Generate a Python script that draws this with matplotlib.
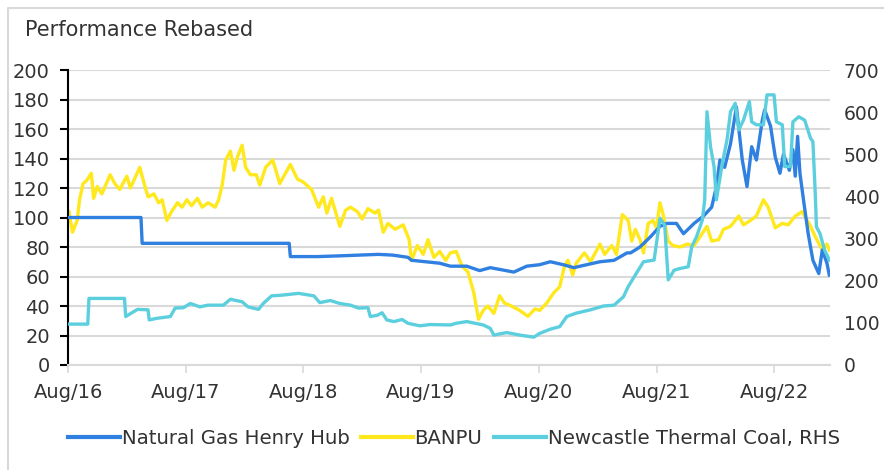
import numpy as np
import pandas as pd
import matplotlib
matplotlib.use("Agg")
import matplotlib.pyplot as plt
import matplotlib.dates as mdates
from matplotlib.lines import Line2D

# dates are decimal years
gas_t = [2016.58, 2017.20, 2017.21, 2018.46, 2018.47, 2018.70, 2018.89, 2019.22, 2019.34,
         2019.47, 2019.50, 2019.74, 2019.83, 2019.97, 2020.08, 2020.17, 2020.37, 2020.48,
         2020.59, 2020.68, 2020.79, 2020.88, 2020.99, 2021.10, 2021.22, 2021.33, 2021.36,
         2021.44, 2021.53, 2021.61, 2021.67, 2021.75, 2021.81, 2021.90, 2021.98, 2022.05,
         2022.09, 2022.12, 2022.16, 2022.21, 2022.26, 2022.31, 2022.35, 2022.39, 2022.43,
         2022.48, 2022.50, 2022.55, 2022.59, 2022.63, 2022.66, 2022.71, 2022.74, 2022.76,
         2022.78, 2022.80, 2022.83, 2022.87, 2022.91, 2022.96, 2022.99, 2023.03, 2023.05]
gas_v = [100, 100, 82.5, 82.5, 73.5, 73.5, 74, 75, 74.5,
         73, 71, 69, 67, 67, 64, 66, 63, 67,
         68, 70, 68, 66, 68, 70, 71, 76, 76,
         80, 87, 94, 96, 96, 89, 96, 101, 107,
         121, 139, 134, 150, 175, 139, 121, 148, 139,
         166, 173, 162, 141, 130, 143, 132, 146, 128,
         155, 130, 112, 89, 71, 62, 78, 69, 61]

banpu_t = [2016.59, 2016.62, 2016.66, 2016.68, 2016.71, 2016.74, 2016.78, 2016.80, 2016.83,
           2016.87, 2016.94, 2016.98, 2017.02, 2017.08, 2017.11, 2017.15, 2017.19, 2017.22,
           2017.26, 2017.31, 2017.35, 2017.38, 2017.42, 2017.46, 2017.51, 2017.55, 2017.59,
           2017.63, 2017.68, 2017.72, 2017.77, 2017.83, 2017.86, 2017.89, 2017.92, 2017.96,
           2017.99, 2018.02, 2018.06, 2018.09, 2018.13, 2018.18, 2018.21, 2018.26, 2018.32,
           2018.38, 2018.47, 2018.53, 2018.58, 2018.65, 2018.71, 2018.75, 2018.78, 2018.82,
           2018.89, 2018.94, 2018.98, 2019.04, 2019.08, 2019.13, 2019.19, 2019.22, 2019.26,
           2019.30, 2019.36, 2019.43, 2019.48, 2019.50, 2019.55, 2019.60, 2019.64, 2019.69,
           2019.74, 2019.79, 2019.83, 2019.88, 2019.93, 2019.98, 2020.03, 2020.07, 2020.11,
           2020.15, 2020.20, 2020.25, 2020.29, 2020.35, 2020.42, 2020.49, 2020.55, 2020.59,
           2020.65, 2020.71, 2020.76, 2020.80, 2020.83, 2020.87, 2020.90, 2020.97, 2021.02,
           2021.10, 2021.14, 2021.20, 2021.24, 2021.29, 2021.34, 2021.37, 2021.40, 2021.44,
           2021.47, 2021.51, 2021.55, 2021.58, 2021.61, 2021.64, 2021.68, 2021.72, 2021.78,
           2021.84, 2021.90, 2021.95, 2022.01, 2022.05, 2022.11, 2022.15, 2022.21, 2022.28,
           2022.32, 2022.38, 2022.43, 2022.49, 2022.53, 2022.59, 2022.65, 2022.70, 2022.76,
           2022.82, 2022.84, 2022.89, 2022.93, 2022.99, 2023.03, 2023.05]
banpu_v = [104, 90, 98, 112, 123, 125, 130, 113, 121,
           116, 129, 123, 119, 128, 120, 127, 134, 125,
           114, 116, 110, 112, 98, 104, 110, 107, 112,
           108, 113, 107, 110, 107, 112, 122, 139, 145,
           132, 141, 149, 134, 129, 129, 122, 134, 139,
           123, 136, 126, 124, 119, 107, 114, 103, 113,
           94, 105, 107, 104, 99, 106, 103, 105, 90,
           96, 92, 95, 85, 71, 81, 75, 85, 73,
           77, 71, 76, 77, 67, 63, 49, 31, 37,
           40, 35, 47, 42, 40, 37, 33, 38, 37,
           42, 49, 53, 67, 71, 61, 69, 76, 70,
           82, 75, 81, 75, 102, 98, 84, 92, 85,
           76, 96, 98, 93, 110, 101, 84, 81, 80,
           82, 81, 87, 94, 84, 85, 92, 94, 101,
           95, 98, 101, 112, 107, 93, 96, 95, 101,
           104, 101, 94, 87, 78, 82, 78]

coal_t = [2016.58, 2016.75, 2016.76, 2017.06, 2017.07, 2017.17, 2017.26, 2017.27, 2017.34,
          2017.45, 2017.49, 2017.56, 2017.62, 2017.70, 2017.77, 2017.90, 2017.96, 2018.06,
          2018.11, 2018.20, 2018.24, 2018.31, 2018.41, 2018.54, 2018.67, 2018.72, 2018.81,
          2018.89, 2018.98, 2019.05, 2019.13, 2019.15, 2019.21, 2019.25, 2019.29, 2019.35,
          2019.42, 2019.47, 2019.57, 2019.66, 2019.83, 2019.88, 2019.97, 2020.11, 2020.17,
          2020.20, 2020.31, 2020.42, 2020.54, 2020.59, 2020.68, 2020.76, 2020.82, 2020.90,
          2021.02, 2021.13, 2021.22, 2021.30, 2021.34, 2021.41, 2021.47, 2021.56, 2021.61,
          2021.65, 2021.68, 2021.73, 2021.78, 2021.85, 2021.88, 2021.92, 2021.97, 2021.99,
          2022.01, 2022.04, 2022.07, 2022.09, 2022.14, 2022.18, 2022.21, 2022.25, 2022.28,
          2022.32, 2022.37, 2022.39, 2022.43, 2022.49, 2022.52, 2022.58, 2022.60, 2022.65,
          2022.67, 2022.72, 2022.74, 2022.79, 2022.84, 2022.89, 2022.91, 2022.93, 2022.94,
          2022.97, 2023.01, 2023.05]
coal_v = [97, 97, 158, 158, 115, 132, 131, 107, 111,
          115, 135, 136, 146, 138, 142, 142, 156, 150,
          138, 132, 146, 164, 166, 170, 164, 148, 153,
          146, 142, 135, 136, 115, 118, 124, 107, 103,
          108, 99, 93, 96, 95, 99, 103, 95, 87,
          71, 77, 71, 66, 75, 85, 91, 115, 123,
          131, 140, 142, 162, 186, 218, 245, 249, 348,
          332, 202, 225, 229, 233, 281, 304, 344, 392,
          601, 518, 471, 392, 478, 534, 601, 621, 558,
          581, 625, 577, 570, 570, 641, 641, 577, 570,
          471, 471, 577, 589, 581, 538, 530, 407, 328,
          312, 273, 249]

left_ticks = list(range(0, 201, 20))
right_ticks = list(range(0, 701, 100))
year_ticks = [2016, 2017, 2018, 2019, 2020, 2021, 2022]


def to_dates(years):
    y = np.asarray(years, dtype=float)
    whole = np.floor(y).astype(int)
    base = pd.to_datetime([f"{v}-01-01" for v in whole])
    return base + pd.to_timedelta((y - whole) * 365.25, unit="D")


plt.rcParams['font.family'] = ['DejaVu Sans']
col_gas = '#2F80E0'
col_banpu = '#FFE81C'
col_coal = '#5CCFDE'
grid_col = '#D9D9D9'
txt_col = '#333333'

fig = plt.figure(figsize=(8.84, 4.70), dpi=100)
# light frame, only top and left edges show in the crop
fig.add_artist(Line2D([8 / 884, 8 / 884, 1.0], [0.0, 1 - 8 / 470, 1 - 8 / 470],
                      transform=fig.transFigure, color=grid_col, lw=1.5))
ax = fig.add_axes([68 / 884, 105 / 470, 762 / 884, 295 / 470])
ax2 = ax.twinx()

ax.plot(to_dates(gas_t), gas_v, color=col_gas, lw=2.4, zorder=3)
ax.plot(to_dates(banpu_t), banpu_v, color=col_banpu, lw=2.4, zorder=2)
ax2.plot(to_dates(coal_t), coal_v, color=col_coal, lw=2.4)

ax.set_ylim(0, 200)
ax.set_yticks(left_ticks)
ax2.set_ylim(0, 700)
ax2.set_yticks(right_ticks)
ax.set_xlim(to_dates([2016.582])[0], to_dates([2023.056])[0])
ax.set_xticks(pd.to_datetime([f"{y}-08-01" for y in year_ticks]))
ax.xaxis.set_major_formatter(mdates.DateFormatter("%b/%y"))

ax.grid(axis='y', color=grid_col, lw=1.5)
ax.set_axisbelow(True)
for a in (ax, ax2):
    for s in ('top', 'right'):
        a.spines[s].set_visible(False)
ax2.spines['left'].set_visible(False)
ax2.spines['bottom'].set_visible(False)
ax.spines['left'].set_linewidth(1.5)
ax.spines['bottom'].set_color(grid_col)
ax.spines['bottom'].set_linewidth(1.5)

ax.tick_params(axis='y', length=6, width=1.5, colors='black', labelcolor=txt_col, labelsize=14, pad=7)
ax.tick_params(axis='x', length=6, width=1.2, colors=grid_col, labelcolor=txt_col, labelsize=14, pad=7)
ax2.tick_params(axis='y', length=0, labelcolor=txt_col, labelsize=13.5, pad=10)

fig.text(25 / 884, 1 - 30 / 470, "Performance Rebased", fontsize=15, color=txt_col, va='center', ha='left')

handles = [Line2D([], [], color=col_gas, lw=3),
           Line2D([], [], color=col_banpu, lw=3),
           Line2D([], [], color=col_coal, lw=3)]
labels = ["Natural Gas Henry Hub", "BANPU", "Newcastle Thermal Coal, RHS"]
fig.legend(handles, labels, loc='center', bbox_to_anchor=(454 / 884, 1 - 438 / 470), ncol=3,
           frameon=False, fontsize=14.2, handlelength=2.6, handletextpad=0.1, columnspacing=0.6,
           labelcolor=txt_col)

fig.savefig("out.png", dpi=100)
